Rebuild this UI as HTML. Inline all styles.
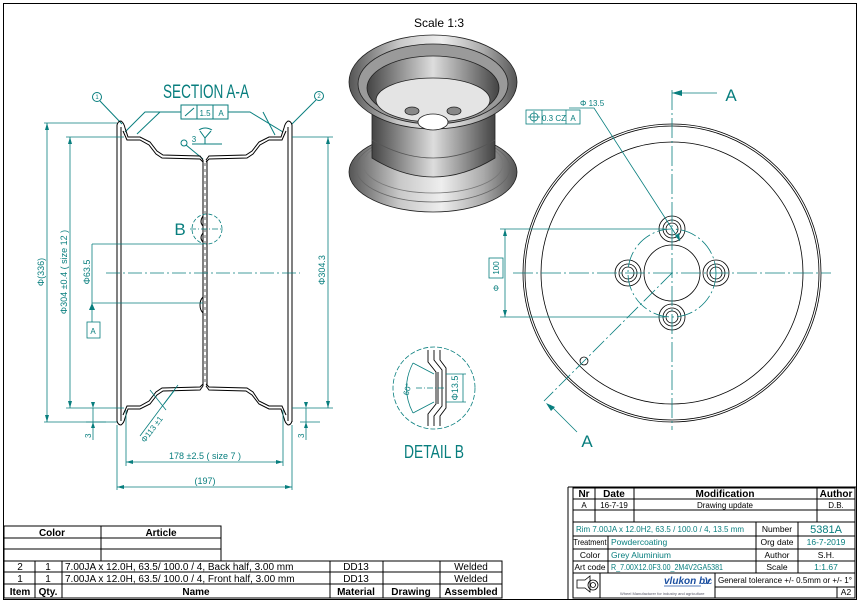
<!DOCTYPE html>
<html><head><meta charset="utf-8"><style>
html,body{margin:0;padding:0;background:#fff;}
svg{display:block;}
text{font-family:"Liberation Sans Narrow","Liberation Sans",sans-serif;}
.t{fill:#087e7e;}
.tb{font-family:"Liberation Sans",sans-serif;fill:#000;}
</style></head><body>
<svg width="861" height="606" viewBox="0 0 861 606" xmlns="http://www.w3.org/2000/svg">
<defs>
<linearGradient id="g1" x1="0" x2="1" y1="0" y2="0">
<stop offset="0" stop-color="#555"/><stop offset="0.3" stop-color="#c8c8c8"/><stop offset="0.55" stop-color="#eee"/><stop offset="0.8" stop-color="#aaa"/><stop offset="1" stop-color="#555"/></linearGradient>
<linearGradient id="g2" x1="0" x2="1" y1="0" y2="0">
<stop offset="0" stop-color="#444"/><stop offset="0.5" stop-color="#ddd"/><stop offset="1" stop-color="#444"/></linearGradient>
</defs>
<rect x="3.5" y="3.5" width="853" height="596" fill="none" stroke="#000" stroke-width="1"/>

<!-- SECTION A-A -->
<text x="206" y="98" class="t" font-size="19" text-anchor="middle" textLength="86" lengthAdjust="spacingAndGlyphs">SECTION A-A</text>
<g fill="none" stroke="#087e7e" stroke-width="1">
<rect x="181" y="105" width="47" height="14"/>
<line x1="197" y1="105" x2="197" y2="119"/><line x1="213" y1="105" x2="213" y2="119"/>
<line x1="185" y1="116" x2="194" y2="108"/>
<polyline points="181,112 145,112 125,132"/><polyline points="160,112 137,134"/>
<polyline points="228,112 250,112 283,132"/><polyline points="263,112 275,135"/>
<circle cx="97" cy="97" r="4.5"/><line x1="100" y1="101" x2="122" y2="124"/>
<circle cx="319" cy="96" r="4.5"/><line x1="316" y1="100" x2="292" y2="124"/>
<circle cx="184" cy="143" r="3"/><line x1="186" y1="145" x2="203" y2="159"/>
<line x1="192" y1="144" x2="222" y2="144"/><polyline points="200,131 205,138 211,131"/><line x1="205" y1="138" x2="205" y2="144"/>
<path d="M199,130 Q205,126 212,130"/>
</g>
<text x="97" y="99" font-size="6" class="t" text-anchor="middle">1</text>
<text x="319" y="98" font-size="6" class="t" text-anchor="middle">2</text>
<text x="205" y="116" font-size="8" class="t" text-anchor="middle">1.5</text>
<text x="221" y="116" font-size="8" class="t" text-anchor="middle">A</text>
<text x="194" y="142" font-size="8" class="t" text-anchor="middle">3</text>

<g fill="none" stroke="#000" stroke-width="1">
<path d="M117,422 L117,125 Q118,121 121,121 Q124,123 125,128"/>
<path d="M121,421 L121,127"/>
<path d="M117,421 Q118,425 121,425 Q124,423 125,418"/>
<path d="M292,422 L292,125 Q291,121 288,121 Q285,123 284,128"/>
<path d="M288,421 L288,127"/>
<path d="M292,421 Q291,425 288,425 Q285,423 284,418"/>
<polyline points="125,128 128,137 140,137 150,142 157,151 163,155 200,156 203,160"/>
<polyline points="123,131 127,140 140,140 149,145 156,154 162,158 200,159 203,162"/>
<polyline points="284,128 281,137 269,137 259,142 252,151 246,155 209,156 206,160"/>
<polyline points="286,131 282,140 269,140 260,145 253,154 247,158 209,159 206,162"/>
<polyline points="125,418 128,409 140,409 150,404 157,395 163,391 200,390 203,386"/>
<polyline points="123,415 127,406 140,406 149,401 156,392 162,388 200,387 203,384"/>
<polyline points="284,418 281,409 269,409 259,404 252,395 246,391 209,390 206,386"/>
<polyline points="286,415 282,406 269,406 259,401 253,392 247,388 209,387 206,384"/>
<line x1="203" y1="160" x2="203" y2="386"/><line x1="207" y1="160" x2="207" y2="386"/>
<line x1="205" y1="163" x2="205" y2="383" stroke-dasharray="3,3" stroke-width="0.6"/>
<path d="M203,216 Q199,222 203,226 M203,233 Q199,238 203,242"/>
<path d="M203,297 Q200,300 200,305 Q200,310 203,313"/>
</g>
<g fill="none" stroke="#087e7e" stroke-width="0.8">
<circle cx="207" cy="229" r="15" stroke-dasharray="4,2"/>
<line x1="190" y1="229" x2="222" y2="229" stroke-dasharray="6,2,1,2"/>
<line x1="106" y1="273" x2="300" y2="273" stroke-dasharray="14,3,2,3"/>
<line x1="44" y1="123" x2="117" y2="123"/><line x1="44" y1="422" x2="117" y2="422"/>
<line x1="47" y1="123" x2="47" y2="422"/>
<line x1="66" y1="137" x2="124" y2="137"/><line x1="66" y1="408" x2="124" y2="408"/>
<line x1="70" y1="137" x2="70" y2="408"/>
<line x1="92" y1="244" x2="203" y2="244"/><line x1="92" y1="303" x2="203" y2="303"/>
<line x1="92" y1="244" x2="92" y2="322"/>
<rect x="87" y="322" width="13" height="16"/>
<line x1="292" y1="137" x2="333" y2="137"/><line x1="292" y1="408" x2="333" y2="408"/>
<line x1="328" y1="137" x2="328" y2="408"/>
<line x1="93" y1="408" x2="93" y2="440"/><line x1="306" y1="408" x2="306" y2="440"/>
<line x1="86" y1="422" x2="106" y2="422"/><line x1="300" y1="422" x2="320" y2="422"/>
<line x1="126" y1="410" x2="126" y2="466"/><line x1="283" y1="410" x2="283" y2="466"/>
<line x1="126" y1="462" x2="283" y2="462"/>
<line x1="117" y1="425" x2="117" y2="490"/><line x1="292" y1="425" x2="292" y2="490"/>
<line x1="117" y1="487" x2="292" y2="487"/>
<line x1="150" y1="390" x2="166" y2="410"/><line x1="174" y1="391" x2="164" y2="404"/>
<line x1="178" y1="385" x2="140" y2="436"/>
</g>
<g fill="#087e7e">
<path d="M47,123 l-2,7 h4z M47,422 l-2,-7 h4z M70,137 l-2,7 h4z M70,408 l-2,-7 h4z M92,303 l-3,7 h6z M328,137 l-2,7 h4z M328,408 l-2,-7 h4z"/>
<path d="M126,462 l7,-2 v4z M283,462 l-7,-2 v4z M117,487 l7,-2 v4z M292,487 l-7,-2 v4z M93,408 l-2,-6 h4z M93,422 l-2,6 h4z M306,408 l-2,-6 h4z M306,422 l-2,6 h4z"/>
</g>
<text x="180" y="235" font-size="17" class="t" text-anchor="middle">B</text>
<text x="93" y="334" font-size="8" class="t" text-anchor="middle">A</text>
<text transform="translate(44,272) rotate(-90)" font-size="9" class="t" text-anchor="middle">Φ(336)</text>
<text transform="translate(67,272) rotate(-90)" font-size="9" class="t" text-anchor="middle">Φ304 ±0.4 ( size 12 )</text>
<text transform="translate(90,272) rotate(-90)" font-size="9" class="t" text-anchor="middle">Φ63.5</text>
<text transform="translate(325,270) rotate(-90)" font-size="9" class="t" text-anchor="middle">Φ304.3</text>
<text transform="translate(91,438) rotate(-90)" font-size="8" class="t">3</text>
<text transform="translate(304,438) rotate(-90)" font-size="8" class="t">3</text>
<text transform="translate(145,443) rotate(-53)" font-size="8" class="t">Φ113 ±1</text>
<text x="205" y="459" font-size="9" class="t" text-anchor="middle">178 ±2.5 ( size 7 )</text>
<text x="205" y="484" font-size="9" class="t" text-anchor="middle">(197)</text>

<!-- 3D view -->
<text x="439" y="27" font-size="12" class="tb" text-anchor="middle">Scale 1:3</text>
<g stroke="#222" stroke-width="0.8">
<ellipse cx="433" cy="172" rx="84" ry="40" fill="url(#g1)"/>
<ellipse cx="433" cy="168" rx="77" ry="34" fill="none" stroke="#666"/>
<ellipse cx="433" cy="164" rx="70" ry="29" fill="none" stroke="#777"/>
<path d="M372,110 L372,158 Q433,196 495,158 L495,110z" fill="url(#g2)"/>
<path d="M372,140 Q433,176 495,140" fill="none" stroke="#555"/>
<ellipse cx="433" cy="82" rx="84" ry="47" fill="url(#g1)"/>
<ellipse cx="433" cy="84" rx="75" ry="40" fill="#9a9a9a"/>
<ellipse cx="433" cy="88" rx="66" ry="32" fill="url(#g2)"/>
<ellipse cx="433" cy="100" rx="57" ry="22" fill="#e4e4e4"/>
<ellipse cx="412" cy="111" rx="7" ry="4" fill="#888"/>
<ellipse cx="454" cy="111" rx="7" ry="4" fill="#888"/>
<ellipse cx="433" cy="122" rx="15" ry="8" fill="#fff"/>
</g>

<!-- Right view -->
<g fill="none" stroke="#000" stroke-width="0.8">
<circle cx="672" cy="273" r="149"/><circle cx="672" cy="273" r="147"/>
<circle cx="672" cy="273" r="131"/>
<circle cx="672" cy="273" r="28"/>
<circle cx="672" cy="229" r="13"/><circle cx="672" cy="229" r="9"/><circle cx="672" cy="229" r="6"/>
<circle cx="672" cy="317" r="13"/><circle cx="672" cy="317" r="9"/><circle cx="672" cy="317" r="6"/>
<circle cx="628" cy="273" r="13"/><circle cx="628" cy="273" r="9"/><circle cx="628" cy="273" r="6"/>
<circle cx="716" cy="273" r="13"/><circle cx="716" cy="273" r="9"/><circle cx="716" cy="273" r="6"/>
<circle cx="584" cy="361" r="4"/>
</g>
<g fill="none" stroke="#087e7e" stroke-width="0.8">
<circle cx="672" cy="273" r="44" stroke-dasharray="16,3,2,3"/>
<line x1="672" y1="90" x2="672" y2="430" stroke-dasharray="20,3,2,3"/>
<line x1="513" y1="273" x2="831" y2="273" stroke-dasharray="20,3,2,3"/>
<line x1="672" y1="273" x2="544" y2="401" stroke-dasharray="16,3,2,3"/>
<line x1="672" y1="93" x2="717" y2="93"/>
<line x1="550" y1="405" x2="577" y2="432"/>
<line x1="500" y1="229" x2="665" y2="229"/><line x1="500" y1="317" x2="665" y2="317"/>
<line x1="505" y1="229" x2="505" y2="317"/>
<rect x="489" y="258" width="14" height="20"/>
<rect x="526" y="110" width="54" height="14"/>
<line x1="542" y1="110" x2="542" y2="124"/><line x1="566" y1="110" x2="566" y2="124"/>
<circle cx="534" cy="117" r="4"/><line x1="528" y1="117" x2="540" y2="117"/><line x1="534" y1="111" x2="534" y2="123"/>
<polyline points="569,108 594,108 680,241"/>
</g>
<g fill="#087e7e">
<path d="M672,93 l10,-3 v6z M546,403 l9,4 l-4,4z M505,229 l-2,7 h4z M505,317 l-2,-7 h4z M680,241 l-1,-8 l-4,3z"/>
</g>
<text x="731" y="101" font-size="17" class="t" text-anchor="middle">A</text>
<text x="587" y="447" font-size="17" class="t" text-anchor="middle">A</text>
<text x="580" y="106" font-size="8" class="t">Φ 13.5</text>
<text x="554" y="121" font-size="8" class="t" text-anchor="middle">0.3 CZ</text>
<text x="573" y="121" font-size="8" class="t" text-anchor="middle">A</text>
<text transform="translate(499,268) rotate(-90)" font-size="8" class="t" text-anchor="middle">100</text>
<text transform="translate(499,288) rotate(-90)" font-size="8" class="t" text-anchor="middle">Φ</text>

<!-- Detail B -->
<circle cx="434" cy="388" r="41" fill="none" stroke="#087e7e" stroke-width="0.8" stroke-dasharray="5,2"/>
<g fill="none" stroke="#000" stroke-width="0.9">
<polyline points="428,350 428,362 436,372 436,404 428,414 428,426"/>
<polyline points="434,350 434,360 442,370 442,406 434,416 434,426"/>
<polyline points="440,350 440,360 446,368 446,408 440,416 440,426"/>
<line x1="438" y1="372" x2="438" y2="404"/>
</g>
<g fill="none" stroke="#087e7e" stroke-width="0.8">
<line x1="446" y1="374" x2="466" y2="374"/><line x1="446" y1="402" x2="466" y2="402"/>
<line x1="463" y1="374" x2="463" y2="402"/>
<path d="M413,363 Q400,388 413,413"/>
<line x1="413" y1="363" x2="434" y2="374"/><line x1="413" y1="413" x2="434" y2="402"/>
<line x1="416" y1="388" x2="446" y2="388" stroke-dasharray="6,2,1,2"/>
</g>
<text transform="translate(458,388) rotate(-90)" font-size="9" class="t" text-anchor="middle">Φ13.5</text>
<text transform="translate(410,390) rotate(-75)" font-size="8" class="t" text-anchor="middle">60°</text>
<text x="434" y="458" font-size="18" class="t" text-anchor="middle" textLength="60" lengthAdjust="spacingAndGlyphs">DETAIL B</text>

<!-- Bottom-left table -->
<g fill="none" stroke="#000" stroke-width="1">
<rect x="4" y="526" width="217" height="35"/>
<line x1="4" y1="538" x2="221" y2="538"/><line x1="4" y1="549" x2="221" y2="549"/>
<line x1="101" y1="526" x2="101" y2="561"/>
<rect x="4" y="561" width="498" height="37"/>
<line x1="4" y1="572" x2="502" y2="572"/><line x1="4" y1="584" x2="502" y2="584"/>
<line x1="35" y1="561" x2="35" y2="598"/><line x1="62" y1="561" x2="62" y2="598"/>
<line x1="330" y1="561" x2="330" y2="598"/><line x1="383" y1="561" x2="383" y2="598"/>
<line x1="440" y1="561" x2="440" y2="598"/>
</g>
<g class="tb" font-size="10">
<text x="52" y="536" text-anchor="middle" font-weight="bold">Color</text>
<text x="161" y="536" text-anchor="middle" font-weight="bold">Article</text>
<text x="20" y="570" text-anchor="middle">2</text><text x="48" y="570" text-anchor="middle">1</text>
<text x="65" y="570">7.00JA x 12.0H,  63.5/ 100.0 / 4, Back half, 3.00 mm</text>
<text x="356" y="570" text-anchor="middle">DD13</text><text x="471" y="570" text-anchor="middle">Welded</text>
<text x="20" y="582" text-anchor="middle">1</text><text x="48" y="582" text-anchor="middle">1</text>
<text x="65" y="582">7.00JA x 12.0H,  63.5/ 100.0 / 4, Front half, 3.00 mm</text>
<text x="356" y="582" text-anchor="middle">DD13</text><text x="471" y="582" text-anchor="middle">Welded</text>
<g font-weight="bold">
<text x="20" y="595" text-anchor="middle">Item</text><text x="48" y="595" text-anchor="middle">Qty.</text>
<text x="196" y="595" text-anchor="middle">Name</text><text x="356" y="595" text-anchor="middle">Material</text>
<text x="411" y="595" text-anchor="middle">Drawing</text><text x="471" y="595" text-anchor="middle">Assembled</text>
</g>
</g>

<!-- Title block -->
<g fill="none" stroke="#000" stroke-width="1">
<line x1="568" y1="487" x2="568" y2="600"/><line x1="568" y1="487" x2="857" y2="487"/>
<rect x="573" y="488" width="282" height="110"/>
<line x1="573" y1="499" x2="855" y2="499"/><line x1="573" y1="510" x2="855" y2="510"/>
<line x1="573" y1="522" x2="855" y2="522"/>
<line x1="595" y1="488" x2="595" y2="522"/><line x1="634" y1="488" x2="634" y2="522"/>
<line x1="817" y1="488" x2="817" y2="522"/>
<line x1="573" y1="536" x2="855" y2="536"/><line x1="573" y1="549" x2="855" y2="549"/>
<line x1="573" y1="561" x2="855" y2="561"/><line x1="573" y1="573" x2="855" y2="573"/>
<line x1="608" y1="536" x2="608" y2="573"/>
<line x1="756" y1="522" x2="756" y2="573"/><line x1="798" y1="522" x2="798" y2="573"/>
<line x1="600" y1="573" x2="600" y2="598"/><line x1="715" y1="573" x2="715" y2="598"/>
<line x1="715" y1="587" x2="855" y2="587"/><line x1="837" y1="587" x2="837" y2="598"/>
</g>
<g class="tb" font-size="10">
<g font-weight="bold">
<text x="584" y="497" text-anchor="middle">Nr</text><text x="614" y="497" text-anchor="middle">Date</text>
<text x="725" y="497" text-anchor="middle">Modification</text><text x="836" y="497" text-anchor="middle">Author</text>
</g>
<text x="584" y="508" text-anchor="middle" font-size="8">A</text><text x="614" y="508" text-anchor="middle" font-size="8">16-7-19</text>
<text x="725" y="508" text-anchor="middle" font-size="8">Drawing update</text><text x="836" y="508" text-anchor="middle" font-size="8">D.B.</text>
</g>
<g font-size="8.5">
<text x="576" y="532" class="t" textLength="168" lengthAdjust="spacingAndGlyphs">Rim 7.00JA x 12.0H2,  63.5 / 100.0 / 4,  13.5 mm</text>
<text x="590" y="545" text-anchor="middle" textLength="33" lengthAdjust="spacingAndGlyphs">Treatment</text><text x="611" y="545" class="t">Powdercoating</text>
<text x="590" y="558" text-anchor="middle">Color</text><text x="611" y="558" class="t">Grey Aluminium</text>
<text x="590" y="570" text-anchor="middle" textLength="31" lengthAdjust="spacingAndGlyphs">Art code</text><text x="611" y="570" class="t" textLength="112" lengthAdjust="spacingAndGlyphs">R_7.00X12.0F3.00_2M4V2GA5381</text>
<text x="777" y="532" text-anchor="middle">Number</text><text x="826" y="533" class="t" text-anchor="middle" font-size="11">5381A</text>
<text x="777" y="545" text-anchor="middle">Org date</text><text x="826" y="545" class="t" text-anchor="middle">16-7-2019</text>
<text x="777" y="558" text-anchor="middle">Author</text><text x="826" y="558" text-anchor="middle">S.H.</text>
<text x="777" y="570" text-anchor="middle">Scale</text><text x="826" y="570" class="t" text-anchor="middle">1:1.67</text>
<text x="718" y="583" textLength="134" lengthAdjust="spacingAndGlyphs">General tolerance +/- 0.5mm or +/- 1°</text>
<text x="846" y="595" text-anchor="middle">A2</text>
</g>
<g fill="none" stroke="#000" stroke-width="0.8">
<polygon points="577,580 585,580 590,576 590,592 585,588 577,588"/>
<circle cx="593" cy="585" r="5"/><circle cx="593" cy="585" r="2.5"/>
</g>
<text x="664" y="584" font-size="10" font-style="italic" font-weight="bold" fill="#1b4fa0" font-family="Liberation Sans,sans-serif">vlukon bv</text>
<line x1="664" y1="586" x2="701" y2="586" stroke="#1b4fa0" stroke-width="0.8"/>
<text x="703" y="584" font-size="9" fill="#1b4fa0">Jc</text>
<text x="620" y="595" font-size="4" fill="#556" font-family="Liberation Sans,sans-serif">Wheel Manufacturer for industry and agriculture</text>
</svg>
</body></html>
